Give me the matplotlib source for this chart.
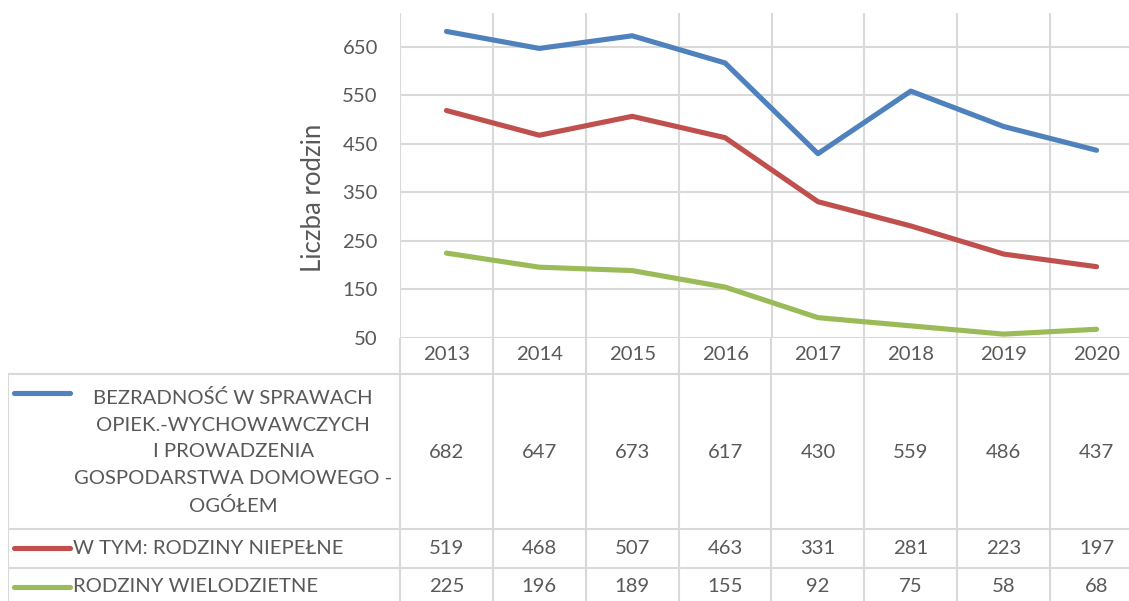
import numpy as np
import matplotlib.pyplot as plt

plt.rcParams['font.family'] = ['Lato', 'DejaVu Sans']

years = ['2013', '2014', '2015', '2016', '2017', '2018', '2019', '2020']
ogolem = [682, 647, 673, 617, 430, 559, 486, 437]
niepelne = [519, 468, 507, 463, 331, 281, 223, 197]
wielodzietne = [225, 196, 189, 155, 92, 75, 58, 68]
series_names = ['BEZRADNOŚĆ W SPRAWACH\nOPIEK.-WYCHOWAWCZYCH\nI PROWADZENIA\nGOSPODARSTWA DOMOWEGO -\nOGÓŁEM',
                'W TYM: RODZINY NIEPEŁNE',
                'RODZINY WIELODZIETNE']
yticks = [50, 150, 250, 350, 450, 550, 650]

colors = ['#4F81BD', '#C0504D', '#9BBB59']
grid_c = '#D9D9D9'
txt_c = '#595959'
fs = 14.6

W, H = 1129, 601
fig = plt.figure(figsize=(W / 100, H / 100), dpi=100)

# layout in pixels
plot_left, plot_right = 400, 1143
plot_top, plot_bot = 13, 338
tab_left = 8
row_lines = [374, 529, 568, 606]
colw = (plot_right - plot_left) / len(years)

ax = fig.add_axes([plot_left / W, 1 - plot_bot / H,
                   (plot_right - plot_left) / W, (plot_bot - plot_top) / H])
x = np.arange(len(years))
for vals, c in zip([ogolem, niepelne, wielodzietne], colors):
    ax.plot(x, vals, color=c, lw=3.7, solid_capstyle='round', solid_joinstyle='round', zorder=3)
ax.set_xlim(-0.5, len(years) - 0.5)
ax.set_ylim(50, 720)
ax.set_yticks(yticks)
ax.set_yticklabels([str(v) for v in yticks], color=txt_c, fontsize=fs)
ax.set_xticks(np.arange(-0.5, len(years), 1))
ax.set_xticklabels([])
ax.tick_params(length=0)
ax.tick_params(axis='y', pad=16)
ax.grid(True, color=grid_c, lw=1.5)
for s in ax.spines.values():
    s.set_visible(False)
ax.set_ylabel('Liczba rodzin', color=txt_c, fontsize=18.5)
ax.yaxis.set_label_coords(-0.1, 0.43)

# data table below the plot
legw = (plot_left - tab_left) / colw
tab = fig.add_axes([tab_left / W, 0, (plot_right - tab_left) / W, 1 - plot_bot / H])
tab.set_xlim(-0.5 - legw, len(years) - 0.5)
tab.set_ylim(H, plot_bot)
tab.axis('off')
for xv in np.arange(-0.5, len(years), 1):
    tab.plot([xv, xv], [plot_bot, H], color=grid_c, lw=1.5)
tab.plot([-0.5 - legw, -0.5 - legw], [row_lines[0], H], color=grid_c, lw=1.5)
for yv in row_lines:
    tab.plot([-0.5 - legw, len(years) - 0.5], [yv, yv], color=grid_c, lw=1.5)

for i, yr in enumerate(years):
    tab.text(i, 355, yr, ha='center', va='center', color=txt_c, fontsize=fs)

row_centers = [452, 548, 587]
sw0 = -0.5 - legw + 6 / colw
sw1 = -0.5 - legw + 62 / colw
for k, (vals, c, name) in enumerate(zip([ogolem, niepelne, wielodzietne], colors, series_names)):
    yc = row_centers[k]
    for i, v in enumerate(vals):
        tab.text(i, yc, str(v), ha='center', va='center', color=txt_c, fontsize=fs)
    if k == 0:
        tab.plot([sw0, sw1], [393, 393], color=c, lw=3.7, solid_capstyle='round')
        tab.text((sw1 - 0.5) / 2 - 0.02, yc, name, ha='center', va='center', color=txt_c,
                 fontsize=fs, linespacing=1.68)
    else:
        tab.plot([sw0, sw1], [yc, yc], color=c, lw=3.7, solid_capstyle='round')
        tab.text(sw1 + 3 / colw, yc, name, ha='left', va='center', color=txt_c, fontsize=fs)

fig.savefig('out.png', dpi=100)
